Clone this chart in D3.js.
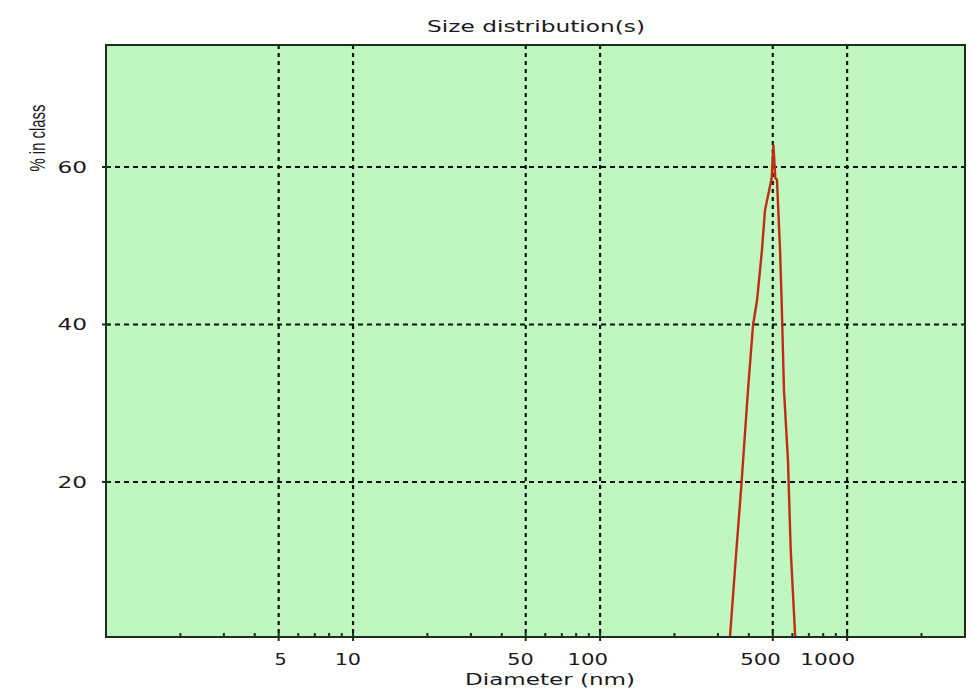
<!DOCTYPE html>
<html><head><meta charset="utf-8">
<script src="https://cdn.jsdelivr.net/npm/d3@7"></script>
<style>body{margin:0;background:#fff}svg{display:block}</style>
</head><body><svg id="c" width="973" height="691"></svg>
<script>
// ---- data ----
const diameters = [335, 355, 372, 397, 416, 432, 452, 465, 495, 503, 512, 520, 535, 543, 555, 576, 591, 617];
const percents  = [0, 10.7, 19.0, 31.7, 39.9, 43.1, 49.4, 54.5, 58.6, 62.8, 58.6, 58.4, 49.5, 43.1, 31.7, 22.8, 11.4, 0];
const xTickValues = [5, 10, 50, 100, 500, 1000];
const xTickLabels = ["5", "10", "50", "100", "500", "1000"];
const yTickValues = [20, 40, 60];
const yTickLabels = ["20", "40", "60"];
const xDomain = [1, 3000];
const yDomain = [0.3, 75.5];
const title = "Size distribution(s)";
const xTitle = "Diameter (nm)";
const yTitle = "% in class";

// ---- layout ----
const L = 106, R = 965, T = 45, B = 637;
const svg = d3.select("#c");
const x = d3.scaleLog().domain(xDomain).range([L, R]);
const y = d3.scaleLinear().domain(yDomain).range([B, T]);
const font = "DejaVu Sans, Verdana, sans-serif";

svg.append("rect").attr("x", L).attr("y", T).attr("width", R - L).attr("height", B - T)
  .attr("fill", "#c0f6c0");

svg.append("defs").append("clipPath").attr("id", "clip")
  .append("rect").attr("x", L).attr("y", T).attr("width", R - L).attr("height", B - T);

// grid
svg.append("g").selectAll("line").data(xTickValues).join("line")
  .attr("x1", d => x(d)).attr("x2", d => x(d)).attr("y1", T).attr("y2", B)
  .attr("stroke", "#081408").attr("stroke-width", 2.2).attr("stroke-dasharray", "4,4");
svg.append("g").selectAll("line").data(yTickValues).join("line")
  .attr("x1", L).attr("x2", R).attr("y1", d => y(d)).attr("y2", d => y(d))
  .attr("stroke", "#081408").attr("stroke-width", 2).attr("stroke-dasharray", "5,4");

// data line
const pts = diameters.map((d, i) => [d, percents[i]]);
svg.append("path").datum(pts).attr("clip-path", "url(#clip)")
  .attr("fill", "none").attr("stroke", "#c42a14").attr("stroke-width", 2.4)
  .attr("stroke-linejoin", "miter")
  .attr("d", d3.line().x(d => x(d[0])).y(d => y(d[1])));

// frame
svg.append("rect").attr("x", L).attr("y", T).attr("width", R - L).attr("height", B - T)
  .attr("fill", "none").attr("stroke", "#1c2e1c").attr("stroke-width", 2);

// x axis ticks
const minor = [];
for (let k = 0; k < 4; k++) for (let m = 1; m < 10; m++) {
  const v = m * Math.pow(10, k);
  if (v > xDomain[0] && v < xDomain[1] && !xTickValues.includes(v)) minor.push(v);
}
svg.append("g").selectAll("line").data(minor).join("line")
  .attr("x1", d => x(d)).attr("x2", d => x(d)).attr("y1", B - 4).attr("y2", B)
  .attr("stroke", "#1c2e1c").attr("stroke-width", 2);
svg.append("g").selectAll("line").data(xTickValues).join("line")
  .attr("x1", d => x(d)).attr("x2", d => x(d)).attr("y1", B - 4).attr("y2", B + 4)
  .attr("stroke", "#1c2e1c").attr("stroke-width", 2);
svg.append("g").selectAll("text").data(xTickValues).join("text")
  .attr("x", d => x(d) + 8).attr("y", 665).attr("text-anchor", "end")
  .attr("font-family", font).attr("font-size", 16).attr("fill", "#1a1a1a")
  .attr("textLength", (d, i) => xTickLabels[i].length * 14.2 - 2)
  .attr("lengthAdjust", "spacingAndGlyphs")
  .text((d, i) => xTickLabels[i]);

// y axis ticks
svg.append("g").selectAll("line").data(yTickValues).join("line")
  .attr("x1", L - 4).attr("x2", L + 4).attr("y1", d => y(d)).attr("y2", d => y(d))
  .attr("stroke", "#1c2e1c").attr("stroke-width", 2);
svg.append("g").selectAll("text").data(yTickValues).join("text")
  .attr("x", 87).attr("y", d => y(d) + 6).attr("text-anchor", "end")
  .attr("font-family", font).attr("font-size", 16).attr("fill", "#1a1a1a")
  .attr("textLength", (d, i) => yTickLabels[i].length * 14.8)
  .attr("lengthAdjust", "spacingAndGlyphs")
  .text((d, i) => yTickLabels[i]);

// titles
svg.append("text").attr("x", 536).attr("y", 32).attr("text-anchor", "middle")
  .attr("font-family", font).attr("font-size", 15).attr("fill", "#1a1a1a")
  .attr("textLength", 218).attr("lengthAdjust", "spacingAndGlyphs").text(title);
svg.append("text").attr("x", 550).attr("y", 685).attr("text-anchor", "middle")
  .attr("font-family", font).attr("font-size", 16).attr("fill", "#1a1a1a")
  .attr("textLength", 170).attr("lengthAdjust", "spacingAndGlyphs").text(xTitle);
svg.append("text").attr("transform", "translate(45,138) rotate(-90)").attr("text-anchor", "middle")
  .attr("font-family", "Liberation Sans, Arial, sans-serif").attr("font-size", 22).attr("fill", "#1a1a1a")
  .attr("textLength", 67).attr("lengthAdjust", "spacingAndGlyphs").text(yTitle);
</script>
</body></html>
